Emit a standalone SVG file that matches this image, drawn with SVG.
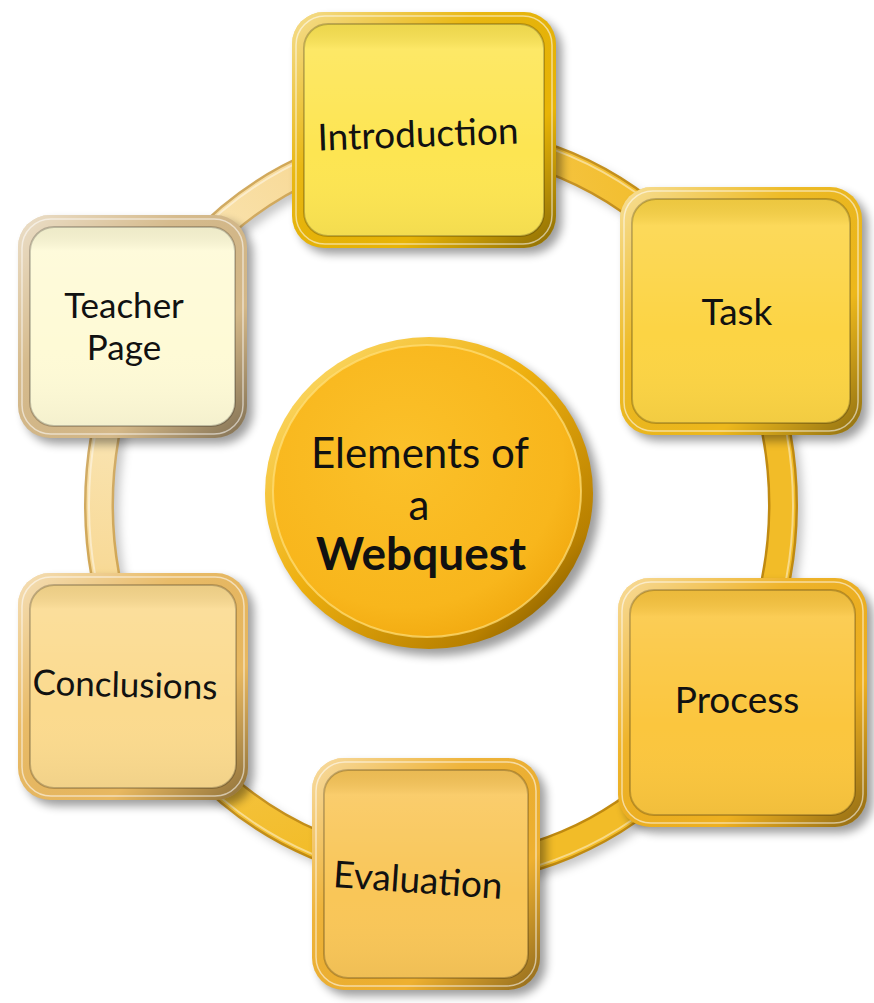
<svg xmlns="http://www.w3.org/2000/svg" width="874" height="1003" viewBox="0 0 874 1003">
  <defs>
    <style>
      .label { font-family: Lato, "Open Sans", "Liberation Sans", sans-serif; fill: #111; text-anchor: middle; }
      .box-label { font-size: 37px; }
      .small-label { font-size: 35px; }
      .hub-label { font-size: 42px; }
      .hub-bold { font-size: 46px; font-weight: bold; }
      .shadow { fill: #000; opacity: 0.38; filter: url(#blur); }
      .rim-shade { fill: url(#rimShade); }
      .rim-gloss { fill: none; stroke: #fff; stroke-opacity: 0.55; stroke-width: 1.5; }
      .face-edge { stroke: #000; stroke-opacity: 0.22; stroke-width: 2; }
      .face-shade { fill: url(#faceShade); }
    </style>
    <filter id="blur" x="-20%" y="-20%" width="140%" height="140%">
      <feGaussianBlur stdDeviation="5"/>
    </filter>
    <!-- bevel lighting shared by all frames -->
    <linearGradient id="rimShade" x1="0" y1="0" x2="1" y2="1">
      <stop offset="0" stop-color="#fff" stop-opacity="0.55"/>
      <stop offset="0.35" stop-color="#fff" stop-opacity="0.05"/>
      <stop offset="0.7" stop-color="#000" stop-opacity="0"/>
      <stop offset="1" stop-color="#000" stop-opacity="0.4"/>
    </linearGradient>
    <linearGradient id="faceShade" x1="0" y1="0" x2="0" y2="1">
      <stop offset="0" stop-color="#000" stop-opacity="0.06"/>
      <stop offset="0.12" stop-color="#fff" stop-opacity="0.12"/>
      <stop offset="0.6" stop-color="#fff" stop-opacity="0"/>
      <stop offset="1" stop-color="#000" stop-opacity="0.04"/>
    </linearGradient>
    <!-- ring band: pale near the top-left, deep gold elsewhere -->
    <radialGradient id="ringFill" gradientUnits="userSpaceOnUse" cx="130" cy="330" r="560">
      <stop offset="0" stop-color="#faebc4"/>
      <stop offset="0.42" stop-color="#f8da98"/>
      <stop offset="0.72" stop-color="#f5c648"/>
      <stop offset="1" stop-color="#f2bc28"/>
    </radialGradient>
    <radialGradient id="ringEdge" gradientUnits="userSpaceOnUse" cx="130" cy="330" r="560">
      <stop offset="0" stop-color="#cfb07a"/>
      <stop offset="0.5" stop-color="#d2a650"/>
      <stop offset="1" stop-color="#c08a10"/>
    </radialGradient>
    <radialGradient id="hubFill" cx="0.42" cy="0.38" r="0.65">
      <stop offset="0" stop-color="#fbc12a"/>
      <stop offset="0.8" stop-color="#f8b61c"/>
      <stop offset="1" stop-color="#f2aa10"/>
    </radialGradient>
    <linearGradient id="hubRim" x1="0" y1="0" x2="1" y2="1">
      <stop offset="0" stop-color="#ffe27a"/>
      <stop offset="0.45" stop-color="#eeb010"/>
      <stop offset="0.8" stop-color="#b88000"/>
      <stop offset="1" stop-color="#5a4000"/>
    </linearGradient>
  </defs>

  <rect width="874" height="1003" fill="#fff"/>

  <!-- connecting ring -->
  <g id="connectors">
    <ellipse cx="447" cy="511" rx="342" ry="365" fill="none" stroke="#000" stroke-opacity="0.22" stroke-width="28" filter="url(#blur)"/>
    <ellipse cx="441" cy="505" rx="342" ry="365" fill="none" stroke="url(#ringEdge)" stroke-width="30"/>
    <ellipse cx="441" cy="505" rx="342" ry="365" fill="none" stroke="url(#ringFill)" stroke-width="25"/>
    <ellipse cx="441" cy="505" rx="352" ry="375" fill="none" stroke="#fff" stroke-opacity="0.45" stroke-width="2"/>
  </g>

  <!-- centre hub -->
  <g id="node-hub">
    <ellipse cx="436" cy="500" rx="164" ry="156" class="shadow"/>
    <ellipse cx="429" cy="493" rx="164" ry="156" fill="url(#hubRim)"/>
    <ellipse cx="427" cy="491" rx="154" ry="146" fill="url(#hubFill)" stroke="#ffe07a" stroke-opacity="0.7" stroke-width="2"/>
    <text class="label hub-label" x="420" y="468">Elements of</text>
    <text class="label hub-label" x="419" y="520">a</text>
    <text class="label hub-bold" x="421" y="570">Webquest</text>
  </g>

  <!-- Introduction -->
  <g id="node-introduction">
    <rect class="shadow" x="298" y="18" width="264" height="236" rx="32"/>
    <rect x="292" y="12" width="264" height="236" rx="32" fill="#e8b406"/>
    <rect class="rim-shade" x="292" y="12" width="264" height="236" rx="32"/>
    <rect class="rim-gloss" x="296" y="16" width="256" height="228" rx="29"/>
    <rect class="face-edge" x="304" y="24" width="240" height="212" rx="24" fill="#fde552"/>
    <rect class="face-shade" x="304" y="24" width="240" height="212" rx="24"/>
    <text class="label box-label" x="418" y="147" transform="rotate(-2 418 135)">Introduction</text>
  </g>

  <!-- Task -->
  <g id="node-task">
    <rect class="shadow" x="626" y="193" width="242" height="248" rx="32"/>
    <rect x="620" y="187" width="242" height="248" rx="32" fill="#edb81c"/>
    <rect class="rim-shade" x="620" y="187" width="242" height="248" rx="32"/>
    <rect class="rim-gloss" x="624" y="191" width="234" height="240" rx="29"/>
    <rect class="face-edge" x="632" y="199" width="218" height="224" rx="24" fill="#fcd444"/>
    <rect class="face-shade" x="632" y="199" width="218" height="224" rx="24"/>
    <text class="label box-label" x="737" y="325">Task</text>
  </g>

  <!-- Process -->
  <g id="node-process">
    <rect class="shadow" x="624" y="584" width="249" height="249" rx="32"/>
    <rect x="618" y="578" width="249" height="249" rx="32" fill="#eeb020"/>
    <rect class="rim-shade" x="618" y="578" width="249" height="249" rx="32"/>
    <rect class="rim-gloss" x="622" y="582" width="241" height="241" rx="29"/>
    <rect class="face-edge" x="630" y="590" width="225" height="225" rx="24" fill="#fbc63e"/>
    <rect class="face-shade" x="630" y="590" width="225" height="225" rx="24"/>
    <text class="label box-label" x="737" y="713">Process</text>
  </g>

  <!-- Evaluation -->
  <g id="node-evaluation">
    <rect class="shadow" x="318" y="764" width="228" height="232" rx="32"/>
    <rect x="312" y="758" width="228" height="232" rx="32" fill="#eeb030"/>
    <rect class="rim-shade" x="312" y="758" width="228" height="232" rx="32"/>
    <rect class="rim-gloss" x="316" y="762" width="220" height="224" rx="29"/>
    <rect class="face-edge" x="324" y="770" width="204" height="208" rx="24" fill="#f9c658"/>
    <rect class="face-shade" x="324" y="770" width="204" height="208" rx="24"/>
    <text class="label box-label" x="418" y="893" transform="rotate(4 418 881)">Evaluation</text>
  </g>

  <!-- Conclusions -->
  <g id="node-conclusions">
    <rect class="shadow" x="24" y="579" width="230" height="227" rx="32"/>
    <rect x="18" y="573" width="230" height="227" rx="32" fill="#e8b860"/>
    <rect class="rim-shade" x="18" y="573" width="230" height="227" rx="32"/>
    <rect class="rim-gloss" x="22" y="577" width="222" height="219" rx="29"/>
    <rect class="face-edge" x="30" y="585" width="206" height="203" rx="24" fill="#fbda8e"/>
    <rect class="face-shade" x="30" y="585" width="206" height="203" rx="24"/>
    <text class="label small-label" x="125" y="697" transform="rotate(1.5 125 685)">Conclusions</text>
  </g>

  <!-- Teacher Page -->
  <g id="node-teacher-page">
    <rect class="shadow" x="24" y="221" width="229" height="223" rx="32"/>
    <rect x="18" y="215" width="229" height="223" rx="32" fill="#d4b888"/>
    <rect class="rim-shade" x="18" y="215" width="229" height="223" rx="32"/>
    <rect class="rim-gloss" x="22" y="219" width="221" height="215" rx="29"/>
    <rect class="face-edge" x="30" y="227" width="205" height="199" rx="24" fill="#fefad6"/>
    <rect class="face-shade" x="30" y="227" width="205" height="199" rx="24"/>
    <text class="label small-label" x="124" y="318">Teacher</text>
    <text class="label small-label" x="124" y="360">Page</text>
  </g>
</svg>
